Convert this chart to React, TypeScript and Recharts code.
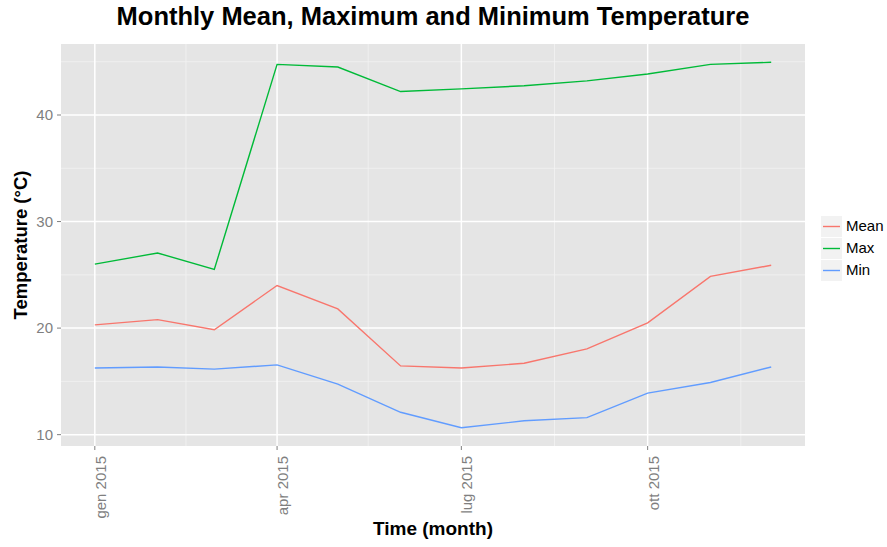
import React from 'react';
import {
  LineChart,
  Line,
  XAxis,
  YAxis,
  CartesianGrid,
  ReferenceLine,
} from 'recharts';

// monthly readings, 2015
const months = [
  '2015-01-01', '2015-02-01', '2015-03-01', '2015-04-01', '2015-05-01', '2015-06-01',
  '2015-07-01', '2015-08-01', '2015-09-01', '2015-10-01', '2015-11-01', '2015-12-01',
];
const meanTemp = [20.3, 20.8, 19.85, 24.0, 21.8, 16.45, 16.25, 16.7, 18.05, 20.5, 24.85, 25.9];
const maxTemp = [26.0, 27.05, 25.5, 44.75, 44.5, 42.2, 42.45, 42.75, 43.2, 43.85, 44.75, 44.95];
const minTemp = [16.25, 16.35, 16.15, 16.55, 14.75, 12.1, 10.65, 11.3, 11.6, 13.9, 14.9, 16.35];

const xTickDates = ['2015-01-01', '2015-04-01', '2015-07-01', '2015-10-01'];
const xTickLabels = ['gen 2015', 'apr 2015', 'lug 2015', 'ott 2015'];
const xMinorDates = ['2015-02-15', '2015-05-16', '2015-08-16', '2015-11-16'];
const yTicks = [10, 20, 30, 40];
const yMinor = [15, 25, 35, 45];

const seriesNames = ['Mean', 'Max', 'Min'];
const COLORS = { Mean: '#F8766D', Max: '#00BA38', Min: '#619CFF' };

const toTime = (d: string) => Date.parse(d + 'T00:00:00Z');

const data = months.map((m, i) => ({
  t: toTime(m),
  Mean: meanTemp[i],
  Max: maxTemp[i],
  Min: minTemp[i],
}));

// ggplot-style 5% expansion of both scales
const tMin = toTime(months[0]);
const tMax = toTime(months[months.length - 1]);
const tPad = (tMax - tMin) * 0.05;
const allVals = [...meanTemp, ...maxTemp, ...minTemp];
const vMin = Math.min(...allVals);
const vMax = Math.max(...allVals);
const vPad = (vMax - vMin) * 0.05;

const FONT = '"Liberation Sans", Arial, Helvetica, sans-serif';
const AXIS_GREY = '#7f7f7f';

const XTick = (props: any) => {
  const { x, y, payload } = props;
  const idx = xTickDates.map(toTime).indexOf(payload.value);
  return (
    <g transform={`translate(${x},${y})`}>
      <text
        transform="rotate(-90)"
        textAnchor="end"
        x={0}
        dy={11}
        fill={AXIS_GREY}
        fontSize={15}
        fontFamily={FONT}
      >
        {idx >= 0 ? xTickLabels[idx] : ''}
      </text>
    </g>
  );
};

const LegendBox = () => (
  <div
    style={{
      position: 'absolute', left: 821, top: 215,
      fontFamily: FONT, fontSize: 15, color: '#000',
    }}
  >
    {seriesNames.map((name) => (
      <div key={name} style={{ display: 'flex', alignItems: 'center', height: 22 }}>
        <svg width={21} height={21} style={{ display: 'block' }}>
          <rect x={0} y={0} width={21} height={21} fill="#F2F2F2" />
          <line x1={2} x2={19} y1={10.5} y2={10.5} stroke={COLORS[name as keyof typeof COLORS]} strokeWidth={1.4} />
        </svg>
        <span style={{ marginLeft: 4, lineHeight: '22px' }}>{name}</span>
      </div>
    ))}
  </div>
);

export default function App() {
  return (
    <div style={{ position: 'absolute', left: 0, top: 0, width: 887, height: 547, background: '#fff' }}>
      <LineChart
        width={887}
        height={547}
        data={data}
        margin={{ top: 44, right: 82, bottom: 0, left: 0 }}
        style={{ position: 'absolute', left: 0, top: 0 }}
      >
        <CartesianGrid fill="#E5E5E5" stroke="none" horizontal={false} vertical={false} />
        {yMinor.map((v) => (
          <ReferenceLine key={'ym' + v} y={v} stroke="#F2F2F2" strokeWidth={0.8} ifOverflow="hidden" />
        ))}
        {xMinorDates.map((d) => (
          <ReferenceLine key={'xm' + d} x={toTime(d)} stroke="#F2F2F2" strokeWidth={0.8} ifOverflow="hidden" />
        ))}
        {yTicks.map((v) => (
          <ReferenceLine key={'y' + v} y={v} stroke="#FFFFFF" strokeWidth={1.5} />
        ))}
        {xTickDates.map((d) => (
          <ReferenceLine key={'x' + d} x={toTime(d)} stroke="#FFFFFF" strokeWidth={1.5} />
        ))}
        <XAxis
          dataKey="t"
          type="number"
          scale="linear"
          domain={[tMin - tPad, tMax + tPad]}
          ticks={xTickDates.map(toTime)}
          height={101}
          axisLine={false}
          tickLine={{ stroke: AXIS_GREY, strokeWidth: 1 }}
          tickSize={4}
          tickMargin={6}
          tick={<XTick />}
          interval={0}
          allowDataOverflow
        />
        <YAxis
          type="number"
          domain={[vMin - vPad, vMax + vPad]}
          ticks={yTicks}
          width={61}
          axisLine={false}
          tickLine={{ stroke: AXIS_GREY, strokeWidth: 1 }}
          tickSize={4}
          tickMargin={4}
          tick={{ fill: AXIS_GREY, fontSize: 15, fontFamily: FONT }}
          interval={0}
          allowDataOverflow
        />
        {seriesNames.map((name) => (
          <Line
            key={name}
            type="linear"
            dataKey={name}
            stroke={COLORS[name as keyof typeof COLORS]}
            strokeWidth={1.4}
            dot={false}
            activeDot={false}
            isAnimationActive={false}
          />
        ))}
      </LineChart>
      <div
        style={{
          position: 'absolute', left: 0, width: 866, top: 2, textAlign: 'center',
          fontFamily: FONT, fontWeight: 'bold', fontSize: 25.5, color: '#000',
        }}
      >
        Monthly Mean, Maximum and Minimum Temperature
      </div>
      <div
        style={{
          position: 'absolute', left: 433, top: 518, transform: 'translateX(-50%)',
          fontFamily: FONT, fontWeight: 'bold', fontSize: 19, color: '#000', whiteSpace: 'nowrap',
        }}
      >
        Time (month)
      </div>
      <div
        style={{
          position: 'absolute', left: 21, top: 245, transform: 'translate(-50%, -50%) rotate(-90deg)',
          fontFamily: FONT, fontWeight: 'bold', fontSize: 18.5, color: '#000', whiteSpace: 'nowrap',
        }}
      >
        Temperature (°C)
      </div>
      <LegendBox />
    </div>
  );
}
